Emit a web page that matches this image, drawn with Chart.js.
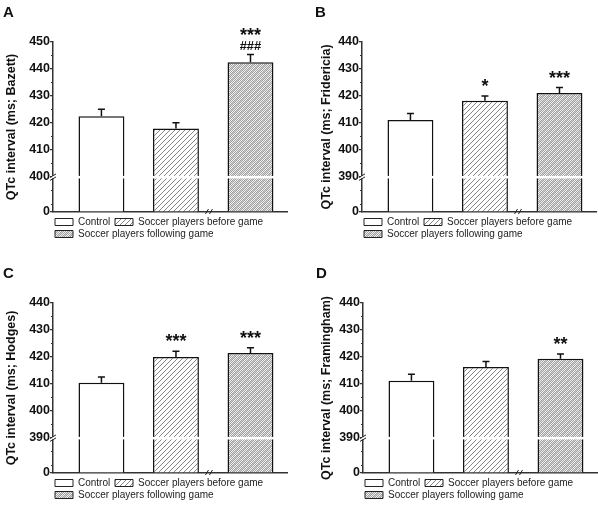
<!DOCTYPE html>
<html>
<head>
<meta charset="utf-8">
<script src="https://cdn.jsdelivr.net/npm/chart.js@4.4.1/dist/chart.umd.min.js"></script>
<style>
  html, body { margin: 0; padding: 0; background: #fff; }
  body { width: 598px; height: 505px; position: relative; overflow: hidden; }
  canvas { position: absolute; }
</style>
</head>
<body>
<canvas id="panelA" width="290" height="252" style="left:0;top:0"></canvas>
<canvas id="panelB" width="290" height="252" style="left:309px;top:0"></canvas>
<canvas id="panelC" width="290" height="252" style="left:0;top:261px"></canvas>
<canvas id="panelD" width="290" height="252" style="left:310px;top:261px"></canvas>
<script>
// groups (same in every panel)
const groups = ['Control', 'Soccer players before game', 'Soccer players following game'];

// A - Bazett
const bazettMean = [422.5, 417.9, 442.5];
const bazettSem = [2.6, 2.2, 2.9];
const bazettMarks = [[], [], ['***', '###']];
const bazettTicks = [0, 400, 410, 420, 430, 440, 450];

// B - Fridericia
const fridericiaMean = [411.1, 418.2, 421.1];
const fridericiaSem = [2.4, 1.8, 2.0];
const fridericiaMarks = [[], ['*'], ['***']];

// C - Hodges
const hodgesMean = [410.4, 420.0, 421.5];
const hodgesSem = [2.2, 2.1, 1.9];
const hodgesMarks = [[], ['***'], ['***']];

// D - Framingham
const framinghamMean = [411.2, 416.3, 419.3];
const framinghamSem = [2.4, 2.0, 1.8];
const framinghamMarks = [[], [], ['**']];

const otherTicks = [0, 390, 400, 410, 420, 430, 440];

const FONT = '"Liberation Sans", Arial, sans-serif';
Chart.defaults.font.family = FONT;
Chart.defaults.color = '#111';

// broken axis: 0..base squeezed into LOW units, base..top one unit per ms
const LOW = 13;
function toAxis(v, base) {
  return v <= base ? v * LOW / base : LOW + (v - base);
}

function hatch() {
  const c = document.createElement('canvas');
  c.width = 5; c.height = 5;
  const g = c.getContext('2d');
  g.fillStyle = '#fff';
  g.fillRect(0, 0, 5, 5);
  g.fillStyle = '#858585';
  for (let i = 0; i < 5; i++) g.fillRect(i, 4 - i, 1, 1);
  return g.createPattern(c, 'repeat');
}

function dense() {
  const c = document.createElement('canvas');
  c.width = 6; c.height = 6;
  const g = c.getContext('2d');
  for (let yy = 0; yy < 6; yy++) {
    for (let xx = 0; xx < 6; xx++) {
      const on = (xx + yy) % 2 === 0;
      const band = (xx + yy) % 6 === 5;
      g.fillStyle = band ? '#cdcdcd' : (on ? '#a2a2a2' : '#f2f2f2');
      g.fillRect(xx, yy, 1, 1);
    }
  }
  return g.createPattern(c, 'repeat');
}

const fills = ['#fff', hatch(), dense()];

function makePanel(id, letter, yTitle, mean, sem, marks, ticks, padLeft, titlePad) {
  const base = ticks[1];
  const top = ticks[ticks.length - 1];

  const decor = {
    id: 'decor',
    afterDatasetsDraw(chart) {
      const {ctx, chartArea} = chart;
      const x = chart.scales.x, y = chart.scales.y;
      ctx.save();

      // error bars + significance marks
      chart.data.datasets.forEach((ds, i) => {
        const bar = chart.getDatasetMeta(i).data[0];
        const yTop = y.getPixelForValue(toAxis(mean[i] + sem[i], base));
        ctx.strokeStyle = '#111';
        ctx.lineWidth = 1.5;
        ctx.beginPath();
        ctx.moveTo(bar.x, bar.y);
        ctx.lineTo(bar.x, yTop);
        ctx.moveTo(bar.x - 3.5, yTop);
        ctx.lineTo(bar.x + 3.5, yTop);
        ctx.stroke();

        ctx.fillStyle = '#111';
        ctx.textAlign = 'center';
        ctx.textBaseline = 'alphabetic';
        let yy = yTop - 4;
        for (let k = marks[i].length - 1; k >= 0; k--) {
          const s = marks[i][k];
          ctx.font = s.indexOf('#') >= 0 ? 'bold 13px ' + FONT : 'bold 18px ' + FONT;
          ctx.fillText(s, bar.x, yy);
          yy -= 9;
        }
      });

      // white gap through the bars at the axis break
      const yb = y.getPixelForValue(LOW);
      ctx.fillStyle = '#fff';
      ctx.fillRect(chartArea.left + 1.5, yb - 1, chartArea.right - chartArea.left, 2.5);

      // minor ticks
      ctx.strokeStyle = '#333';
      ctx.lineWidth = 1;
      ctx.beginPath();
      [3, 8, LOW + 5, LOW + 15, LOW + 25, LOW + 35, LOW + 45].forEach(v => {
        const py = Math.round(y.getPixelForValue(v)) + 0.5;
        ctx.moveTo(chartArea.left - 2, py);
        ctx.lineTo(chartArea.left, py);
      });
      ctx.stroke();

      // break marks on y axis
      ctx.fillStyle = '#fff';
      ctx.fillRect(chartArea.left - 1, yb - 1, 2.5, 2.5);
      ctx.strokeStyle = '#222';
      ctx.lineWidth = 1;
      ctx.beginPath();
      ctx.moveTo(chartArea.left - 3, yb + 0.5);
      ctx.lineTo(chartArea.left + 3, yb - 3);
      ctx.moveTo(chartArea.left - 3, yb + 3.5);
      ctx.lineTo(chartArea.left + 3, yb);
      ctx.stroke();

      // break marks on x axis
      const xb = x.getPixelForValue(2.45);
      const bt = chartArea.bottom;
      ctx.beginPath();
      ctx.moveTo(xb - 4, bt + 2);
      ctx.lineTo(xb - 1, bt - 3);
      ctx.moveTo(xb, bt + 2);
      ctx.lineTo(xb + 3, bt - 3);
      ctx.stroke();

      ctx.restore();
    }
  };

  return new Chart(document.getElementById(id), {
    type: 'bar',
    data: {
      datasets: groups.map((g, i) => ({
        label: g,
        data: [{x: i + 1, y: toAxis(mean[i], base)}],
        backgroundColor: fills[i],
        borderColor: '#111',
        borderWidth: 1.5,
        grouped: false,
        barPercentage: 0.616,
        categoryPercentage: 1
      }))
    },
    options: {
      responsive: false,
      devicePixelRatio: 1,
      animation: false,
      events: [],
      layout: {padding: {left: padLeft, right: 3, top: 3.5, bottom: 3}},
      plugins: {
        tooltip: {enabled: false},
        title: {
          display: true,
          text: letter,
          align: 'start',
          color: '#111',
          font: {size: 15, weight: 'bold'},
          padding: {top: 0, bottom: 20.5}
        },
        legend: {
          position: 'bottom',
          align: 'start',
          fullSize: false,
          labels: {
            boxWidth: 18,
            boxHeight: 7,
            padding: 2,
            color: '#222',
            font: {size: 10},
            generateLabels: (chart) =>
              Chart.defaults.plugins.legend.labels.generateLabels(chart).map(it =>
                Object.assign(it, {lineWidth: 1, strokeStyle: '#222', text: it.text + ' '}))
          }
        }
      },
      scales: {
        x: {
          type: 'linear',
          offset: false,
          bounds: 'data',
          min: 0.35,
          max: 3.49,
          afterBuildTicks: (scale) => { scale.ticks = [{value: 1}, {value: 2}, {value: 3}]; },
          afterFit: (scale) => { scale.height = 3; },
          ticks: {display: false},
          grid: {display: false, offset: false},
          border: {display: true, color: '#333', width: 1.5}
        },
        y: {
          min: 0,
          max: toAxis(top, base),
          afterBuildTicks: (scale) => {
            scale.ticks = ticks.map(v => ({value: toAxis(v, base)}));
          },
          afterFit: (scale) => { scale.width = 53 - padLeft; },
          ticks: {
            autoSkip: false,
            padding: 0,
            color: '#111',
            font: {size: 12.5, weight: 'bold'},
            callback: (value, index) => String(ticks[index])
          },
          grid: {display: true, drawOnChartArea: false, drawTicks: true, tickLength: 3, color: '#333', lineWidth: 1.2},
          border: {display: true, color: '#333', width: 1.5},
          title: {
            display: true,
            text: yTitle,
            color: '#111',
            font: {size: 12.5, weight: 'bold'},
            padding: {top: titlePad, bottom: 0}
          }
        }
      }
    },
    plugins: [decor]
  });
}

makePanel('panelA', 'A', 'QTc interval (ms; Bazett)', bazettMean, bazettSem, bazettMarks, bazettTicks, 3, 1.2);
makePanel('panelB', 'B', 'QTc interval (ms; Fridericia)', fridericiaMean, fridericiaSem, fridericiaMarks, otherTicks, 6, 4.5);
makePanel('panelC', 'C', 'QTc interval (ms; Hodges)', hodgesMean, hodgesSem, hodgesMarks, otherTicks, 3, 1.5);
makePanel('panelD', 'D', 'QTc interval (ms; Framingham)', framinghamMean, framinghamSem, framinghamMarks, otherTicks, 6, 3.5);
</script>
</body>
</html>
